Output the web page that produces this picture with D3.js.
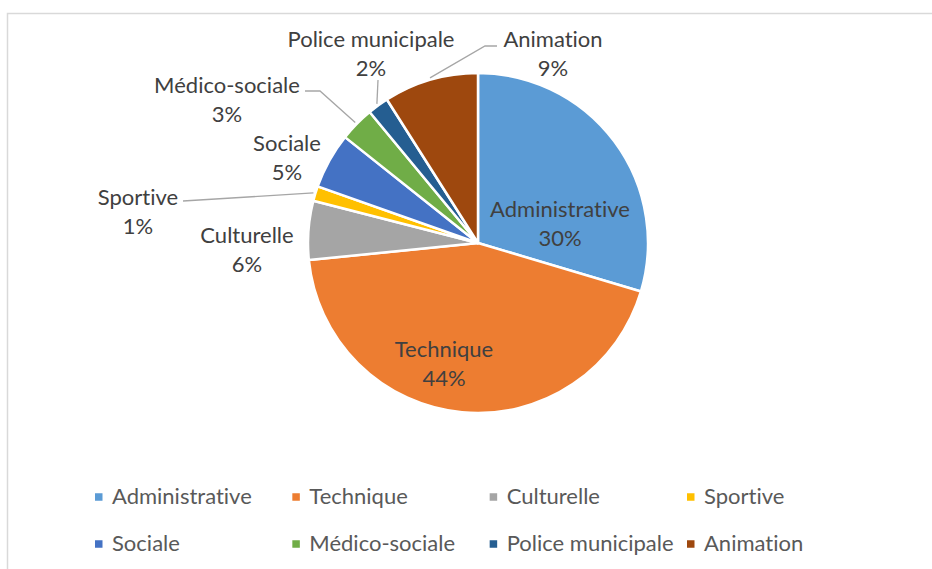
<!DOCTYPE html>
<html>
<head>
<meta charset="utf-8">
<script src="https://cdn.jsdelivr.net/npm/d3@7"></script>
<style>
    body { margin: 0; background: #fff; }
    svg { display: block; font-family: Lato, 'Noto Sans', sans-serif; font-variant-ligatures: none; font-feature-settings: "liga" 0; }
</style>
</head>
<body>
<div id="wrapper"></div>
<script>
// 1. Data
const categories = ['Administrative', 'Technique', 'Culturelle', 'Sportive',
    'Sociale', 'Médico-sociale', 'Police municipale', 'Animation']
const shares = [29.6, 43.8, 5.6, 1.4, 5.3, 3.3, 2.0, 9.0]
const colors = ['#5B9BD5', '#ED7D31', '#A5A5A5', '#FFC000',
    '#4472C4', '#70AD47', '#255E91', '#9E480E']

// label placement, offsets from pie centre (Excel "best fit" look)
const labelLayout = {
    'Administrative': { dx: 82, dy: -26 },
    'Technique': { dx: -34, dy: 114 },
    'Culturelle': { dx: -231, dy: 0 },
    'Sportive': { dx: -340, dy: -38, leader: [[-295, -42], [-295, -42]] },
    'Sociale': { dx: -191, dy: -92 },
    'Médico-sociale': { dx: -251, dy: -150, leader: [[-173, -152], [-158, -152]] },
    'Police municipale': { dx: -107, dy: -196, leader: [[-100, -163], [-100, -163]] },
    'Animation': { dx: 75, dy: -196, leader: [[19, -197], [7, -197]] }
}

const data = categories.map((name, i) => ({ name, value: shares[i], color: colors[i] }))
const total = d3.sum(shares)

// 2. Dimensions
const dms = {
    width: 932,
    height: 569,
    cx: 478,
    cy: 243,
    radius: 170
}

// 3. Canvas
const wrapper = d3.select('#wrapper')
    .append('svg')
        .attr('width', dms.width)
        .attr('height', dms.height)

// chart area frame
wrapper.append('rect')
    .attr('x', 7.5)
    .attr('y', 13.5)
    .attr('width', dms.width)
    .attr('height', dms.height)
    .attr('fill', 'none')
    .attr('stroke', '#d9d9d9')
    .attr('stroke-width', 1.5)

const bounds = wrapper.append('g')
    .attr('transform', `translate(${dms.cx}, ${dms.cy})`)

// 4. Pie layout
const pie = d3.pie()
    .sort(null)
    .value(d => d.value)

const arcs = pie(data)

const arc = d3.arc()
    .innerRadius(0)
    .outerRadius(dms.radius)

const edgeArc = d3.arc()
    .innerRadius(dms.radius + 2)
    .outerRadius(dms.radius + 2)

// 5. Slices
bounds.selectAll('path.slice')
    .data(arcs)
    .join('path')
        .attr('class', 'slice')
        .attr('d', arc)
        .attr('fill', d => d.data.color)
        .attr('stroke', '#fff')
        .attr('stroke-width', 2.5)
        .attr('stroke-linejoin', 'round')

// 6. Leader lines + labels
const pct = d3.format('.0%')

arcs.forEach(d => {
    const lay = labelLayout[d.data.name]
    if (lay.leader) {
        const end = edgeArc.centroid(d)
        const pts = [...lay.leader, end]
        bounds.append('path')
            .attr('d', d3.line()(pts))
            .attr('fill', 'none')
            .attr('stroke', '#a6a6a6')
            .attr('stroke-width', 1.3)
    }
    const label = bounds.append('text')
        .attr('text-anchor', 'middle')
        .attr('fill', '#404040')
        .style('font-size', '22px')
    label.append('tspan')
        .attr('x', lay.dx)
        .attr('y', lay.dy)
        .text(d.data.name)
    label.append('tspan')
        .attr('x', lay.dx)
        .attr('y', lay.dy + 29)
        .text(pct(d.data.value / total))
})

// 7. Legend
const legendX = d3.scalePoint()
    .domain(d3.range(4))
    .range([95, 687])

const legendY = d3.scalePoint()
    .domain([0, 1])
    .range([497, 544])

const legend = wrapper.append('g')
    .selectAll('g')
    .data(data)
    .join('g')
        .attr('transform', (d, i) => `translate(${legendX(i % 4)}, ${legendY(Math.floor(i / 4))})`)

legend.append('rect')
    .attr('x', 0)
    .attr('y', -3.75)
    .attr('width', 7.5)
    .attr('height', 7.5)
    .attr('fill', d => d.color)

legend.append('text')
    .attr('x', 17)
    .attr('y', 7)
    .attr('fill', '#595959')
    .style('font-size', '22px')
    .text(d => d.name)
</script>
</body>
</html>
